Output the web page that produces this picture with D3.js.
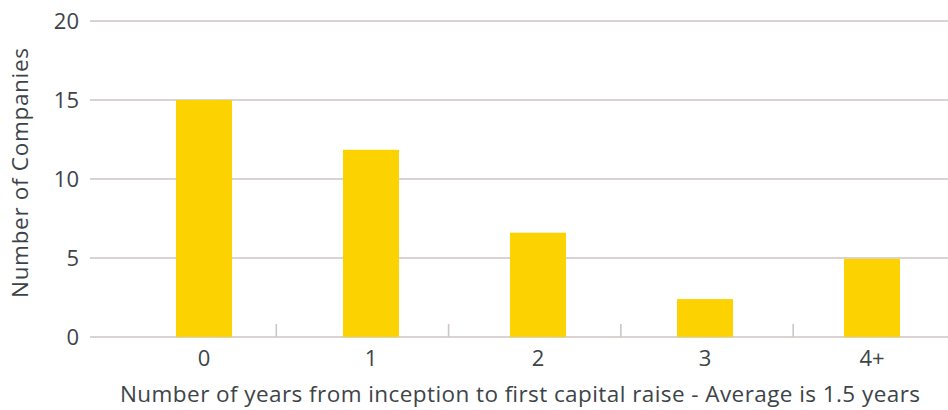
<!DOCTYPE html>
<html>
<head>
<meta charset="utf-8">
<script src="https://cdn.jsdelivr.net/npm/d3@7"></script>
<style>
  html, body { margin: 0; padding: 0; background: #fff; }
  svg { display: block; }
  text { font-family: "Open Sans", "Noto Sans", sans-serif; fill: #3d4449; }
</style>
</head>
<body>
<svg id="chart" width="948" height="410"></svg>
<script>
// Years from inception to first capital raise
const categories = ["0", "1", "2", "3", "4+"];
const companies = [15, 11.85, 6.6, 2.4, 4.95];
const yTicks = [0, 5, 10, 15, 20];
const xTitle = "Number of years from inception to first capital raise - Average is 1.5 years";
const yTitle = "Number of Companies";

const svg = d3.select("#chart");
const plotLeft = 90, plotRight = 948, plotTop = 21, plotBottom = 337;

const y = d3.scaleLinear().domain([0, 20]).range([plotBottom, plotTop]);

// bars
const x = d3.scaleBand().domain(categories).range([120.5, 955.5]).paddingInner(0.665).paddingOuter(0.3325);
// category dividers on the baseline
const xDiv = d3.scaleBand().domain(categories).range([104, 965.5]);

const gridColor = "#cdc6c3";

// horizontal gridlines
svg.append("g").selectAll("line").data(yTicks).join("line")
  .attr("x1", plotLeft).attr("x2", plotRight)
  .attr("y1", d => y(d)).attr("y2", d => y(d))
  .attr("stroke", gridColor).attr("stroke-width", 1.4);

// y tick labels
svg.append("g").selectAll("text").data(yTicks).join("text")
  .attr("x", 79).attr("y", d => y(d)).attr("dy", "0.35em")
  .attr("text-anchor", "end").attr("font-size", 22)
  .text(d => d);

// divider ticks between categories
svg.append("g").selectAll("line").data(categories.slice(0, -1)).join("line")
  .attr("x1", d => xDiv(d) + xDiv.step()).attr("x2", d => xDiv(d) + xDiv.step())
  .attr("y1", y(0)).attr("y2", y(0) - 13)
  .attr("stroke", gridColor).attr("stroke-width", 1.6);

// bars
svg.append("g").selectAll("rect").data(categories).join("rect")
  .attr("x", d => x(d)).attr("width", x.bandwidth())
  .attr("y", (d, i) => y(companies[i]))
  .attr("height", (d, i) => y(0) - y(companies[i]))
  .attr("fill", "#fcd200");

// category labels
svg.append("g").selectAll("text").data(categories).join("text")
  .attr("x", d => x(d) + x.bandwidth() / 2).attr("y", 358).attr("dy", "0.35em")
  .attr("text-anchor", "middle").attr("font-size", 22)
  .text(d => d);

// axis titles
svg.append("text")
  .attr("x", 520).attr("y", 402)
  .attr("text-anchor", "middle").attr("font-size", 22.5)
  .attr("textLength", 800).attr("lengthAdjust", "spacing")
  .text(xTitle);

svg.append("text")
  .attr("transform", "translate(28,173) rotate(-90)")
  .attr("text-anchor", "middle").attr("font-size", 22.5)
  .attr("textLength", 250).attr("lengthAdjust", "spacing")
  .text(yTitle);
</script>
</body>
</html>
